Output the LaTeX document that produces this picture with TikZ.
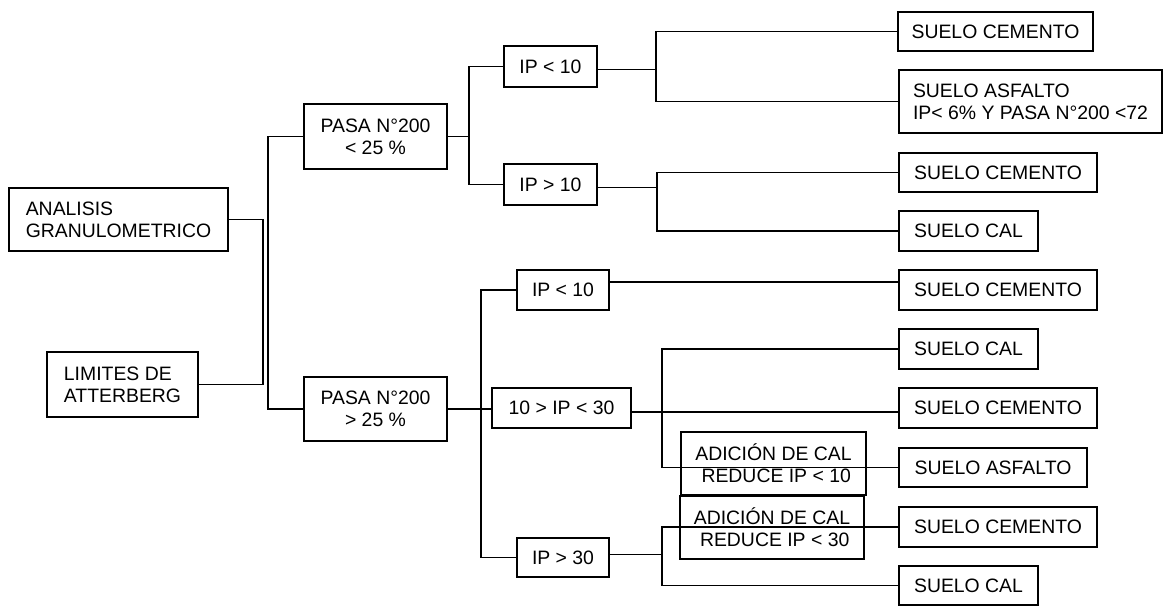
\documentclass[tikz,border=0pt]{standalone}
\usepackage{fontspec}
\setmainfont{Liberation Sans}
\usepackage{tikz}
\usetikzlibrary{positioning, calc}

\begin{document}
\begin{tikzpicture}[x=1pt, y=-1pt,
    caja/.style={draw, line width=1.1pt, inner sep=0pt, align=center,
        font=\fontsize{19.4}{22}\selectfont},
    conector/.style={line width=1.1pt},
    ipcaja/.style={caja, minimum width=93, minimum height=41},
    cemento/.style={caja, minimum width=198, minimum height=40},
    cal/.style={caja, minimum width=139, minimum height=40},
    adicion/.style={caja, minimum width=185, minimum height=63}]
    \useasboundingbox (0,0) rectangle (1174,606);

    % Ensayos de partida
    \node[caja, align=left, minimum width=219, minimum height=63] (ana) at (118.5,219.5) {ANALISIS\\GRANULOMETRICO};
    \node[caja, align=left, minimum width=151, minimum height=65] (lim) at (122.5,384.5) {LIMITES DE\\ATTERBERG};

    % Porcentaje que pasa el tamiz
    \node[caja, minimum width=143, minimum height=65] (pas1) at (375.5,136.5) {PASA N°200\\< 25 \%};
    \node[caja, minimum width=143, minimum height=64] (pas2) at (375.5,409) {PASA N°200\\> 25 \%};

    % Indice de plasticidad
    \node[ipcaja] (ip1) at (550.5,66.5) {IP < 10};
    \node[ipcaja] (ip2) at (550.5,184.5) {IP > 10};
    \node[ipcaja, minimum width=92, minimum height=40] (ip3) at (563,290) {IP < 10};
    \node[caja, minimum width=139, minimum height=40] (t30) at (561.5,408) {10 > IP < 30};
    \node[ipcaja, minimum width=92, minimum height=39] (ip4) at (563,557.5) {IP > 30};

    % Tipo de estabilizacion (rama superior)
    \node[cemento, minimum width=195, minimum height=39] (sc1) at (995.5,31.5) {SUELO CEMENTO};
    \node[caja, align=left, minimum width=263, minimum height=63] (sa1) at (1030.5,101.5) {SUELO ASFALTO\\IP< 6\% Y PASA N°200 <72};
    \node[cemento, minimum height=39] (sc2) at (998,172.5) {SUELO CEMENTO};
    \node[cal] (cal1) at (968.5,231) {SUELO CAL};

    % Tipo de estabilizacion (rama inferior)
    \node[cemento] (sc3) at (998,290) {SUELO CEMENTO};
    \node[cal] (cal2) at (968.5,349) {SUELO CAL};
    \node[cemento] (sc4) at (998,408) {SUELO CEMENTO};
    \node[caja, minimum width=188, minimum height=39] (sa2) at (993,467.5) {SUELO ASFALTO};
    \node[cemento] (sc5) at (998,527) {SUELO CEMENTO};
    \node[cal, minimum height=39] (cal3) at (968.5,585.5) {SUELO CAL};

    % Notas sobre la adicion de cal (sin relleno, las lineas las cruzan)
    \node[adicion] (ad1) at (773.5,463.5) {ADICIÓN DE CAL\\\ REDUCE IP < 10};
    \node[adicion, minimum width=184] (ad2) at (772,527.5) {ADICIÓN DE CAL\\\ REDUCE IP < 30};

    % Puntos de quiebre de los conectores
    \coordinate (j1) at (263,300);
    \coordinate (j2) at (268,270);
    \coordinate (j3) at (469,120);
    \coordinate (j4) at (656,60);
    \coordinate (j5) at (657,200);
    \coordinate (j6) at (481,420);
    \coordinate (j7) at (662,400);
    \coordinate (j8) at (662,555);

    % Conectores
    \draw[conector] (ana.east) -| (j1) |- (lim.east);
    \draw[conector] (pas1.west) -| (j2) |- (pas2.west);
    \draw[conector] (ip1.west) -| (j3) |- (ip2.west);
    \draw[conector] (pas1.east) -- (pas1.east -| j3);
    \draw[conector] (sc1.west) -| (j4) |- (sa1.west);
    \draw[conector] ([yshift=-3pt]ip1.east) -- ([yshift=-3pt]ip1.east -| j4);
    \draw[conector] (sc2.west) -| (j5) |- (cal1.west);
    \draw[conector] ([yshift=-3pt]ip2.east) -- ([yshift=-3pt]ip2.east -| j5);
    \draw[conector] (pas2.east) -- (pas2.east -| t30.west);
    \draw[conector] (ip3.west) -| (j6) |- (ip4.west);
    \draw[conector] ([yshift=8pt]ip3.east) -- ([yshift=8pt]sc3.west);
    \draw[conector] ([yshift=-4pt]t30.east) -- ([yshift=-4pt]sc4.west);
    \draw[conector] (cal2.west) -| (j7) |- (sa2.west);
    \draw[conector] (sc5.west) -| (j8) |- (cal3.west);
    \draw[conector] ([yshift=3pt]ip4.east) -- ([yshift=3pt]ip4.east -| j8);
\end{tikzpicture}
\end{document}
